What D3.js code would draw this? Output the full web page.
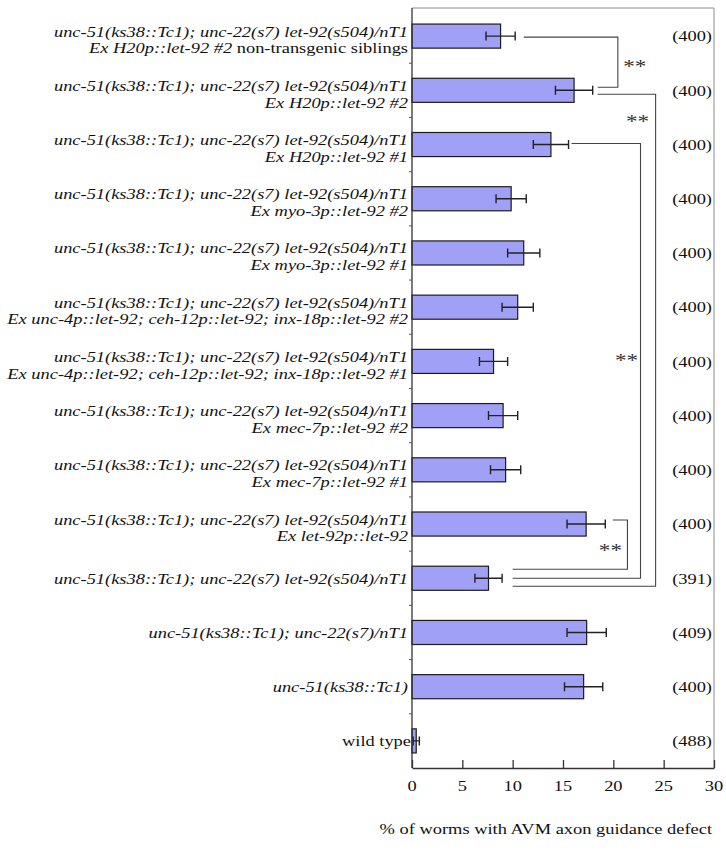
<!DOCTYPE html>
<html>
<head>
<meta charset="utf-8">
<script src="https://cdn.jsdelivr.net/npm/d3@7"></script>
<style>
  html, body { margin: 0; padding: 0; background: #fff; }
  svg { display: block; font-family: "Liberation Serif", "Times New Roman", serif; }
</style>
</head>
<body>
<svg id="chart" width="726" height="853"></svg>
<script>
// ---------------- data ----------------
const G = "unc-51(ks38::Tc1); unc-22(s7) let-92(s504)/nT1";
const genotypes = [G, G, G, G, G, G, G, G, G, G, G,
  "unc-51(ks38::Tc1); unc-22(s7)/nT1", "unc-51(ks38::Tc1)", "wild type"];
const transgenes = [
  "Ex H20p::let-92 #2", "Ex H20p::let-92 #2", "Ex H20p::let-92 #1",
  "Ex myo-3p::let-92 #2", "Ex myo-3p::let-92 #1",
  "Ex unc-4p::let-92; ceh-12p::let-92; inx-18p::let-92 #2",
  "Ex unc-4p::let-92; ceh-12p::let-92; inx-18p::let-92 #1",
  "Ex mec-7p::let-92 #2", "Ex mec-7p::let-92 #1", "Ex let-92p::let-92",
  "", "", "", ""];
const transgeneNotes = [" non-transgenic siblings", "", "", "", "", "", "", "", "", "", "", "", "", ""];
const values = [8.8, 16.1, 13.8, 9.85, 11.1, 10.5, 8.1, 9.05, 9.3, 17.3, 7.6, 17.35, 17.05, 0.42];
const errors = [1.45, 1.85, 1.75, 1.5, 1.6, 1.55, 1.4, 1.45, 1.5, 1.9, 1.35, 1.95, 1.9, 0.31];
const counts = ["(400)", "(400)", "(400)", "(400)", "(400)", "(400)", "(400)", "(400)", "(400)", "(400)", "(391)", "(409)", "(400)", "(488)"];
const xTicks = [0, 5, 10, 15, 20, 25, 30];
const xTitle = "% of worms with AVM axon guidance defect";
// significance comparisons (category indices)
const compA = [0, 1, 2, 9];
const compB = [1, 10, 10, 10];
const compLabel = ["**", "**", "**", "**"];

// ---------------- layout ----------------
const pL = 412, pR = 714, pT = 9, pB = 768;
const stretch = 1.22;      // horizontal stretch of text as in reference
const fs = 15.1;
const ids = d3.range(values.length);

const svg = d3.select("#chart");
const x = d3.scaleLinear().domain([0, 30]).range([pL, pR]);
const y = d3.scaleBand().domain(ids).range([pT, pB]).paddingInner(0.556).paddingOuter(0.278);
const yc = i => y(i) + y.bandwidth() / 2;

function stext(parent, px, py, anchor, size) {
  const g = parent.append("g").attr("transform", `translate(${px},${py}) scale(${stretch},1)`);
  return g.append("text").attr("x", 0).attr("y", 0).attr("text-anchor", anchor)
    .attr("font-size", size || fs).attr("fill", "#111");
}

// frame (top & right, light gray)
svg.append("path")
  .attr("d", `M${pL},${pT - 1}H${pR}V${pB}`)
  .attr("fill", "none").attr("stroke", "#8a8a8a").attr("stroke-width", 1);

// bars
svg.append("g").selectAll("rect").data(ids).join("rect")
  .attr("x", x(0))
  .attr("y", i => y(i))
  .attr("width", i => x(values[i]) - x(0))
  .attr("height", y.bandwidth())
  .attr("fill", "#a0a0f6")
  .attr("stroke", "#1c1c1c").attr("stroke-width", 1.2);

// error bars
const eb = svg.append("g").attr("stroke", "#222").attr("stroke-width", 1.4).attr("fill", "none");
ids.forEach(i => {
  const a = x(values[i] - errors[i]), b = x(values[i] + errors[i]), c = yc(i);
  eb.append("path").attr("d", `M${a},${c}H${b}M${a},${c - 4.5}V${c + 4.5}M${b},${c - 4.5}V${c + 4.5}`);
});

// left axis with minor ticks at band boundaries
const la = svg.append("g");
la.append("line").attr("x1", pL).attr("x2", pL).attr("y1", pT - 1).attr("y2", pB)
  .attr("stroke", "#333").attr("stroke-width", 1.3);
ids.slice(1).forEach(i => {
  const yy = y(i) - y.step() * y.paddingInner() / 2;
  la.append("line").attr("x1", pL - 3).attr("x2", pL).attr("y1", yy).attr("y2", yy)
    .attr("stroke", "#555").attr("stroke-width", 1);
});

// bottom axis
const xa = svg.append("g").attr("transform", `translate(0,${pB})`)
  .call(d3.axisBottom(x).tickValues(xTicks).tickSizeInner(-8).tickSizeOuter(0).tickFormat(() => ""));
xa.select(".domain").attr("stroke", "#333").attr("stroke-width", 1.3);
xa.selectAll(".tick line").attr("stroke", "#333").attr("stroke-width", 1.3);
xTicks.forEach(t => {
  stext(svg, x(t), pB + 23, "middle").text(t);
});
stext(svg, 712, 834, "end").text(xTitle);

// category labels
ids.forEach(i => {
  const c = yc(i);
  const italic = genotypes[i] !== "wild type";
  if (transgenes[i]) {
    stext(svg, 408, c + 0.5, "end").attr("font-style", "italic").text(genotypes[i]);
    const t = stext(svg, 408, c + 17.3, "end");
    t.append("tspan").attr("font-style", "italic").text(transgenes[i]);
    if (transgeneNotes[i]) t.append("tspan").text(transgeneNotes[i]);
  } else {
    stext(svg, italic ? 408 : 411, c + 5.5, "end").attr("font-style", italic ? "italic" : "normal").text(genotypes[i]);
  }
  stext(svg, 712, c + 5.3, "end").text(counts[i]);
});

// significance brackets (layout: x in data units, y offsets in px)
const brX1 = [11.1, 18.45, 15.85, 19.95];   // start beside first bar
const brXv = [20.45, 24.2, 22.7, 21.4];     // vertical line
const brX2 = [18.45, 10.0, 10.0, 10.0];     // end beside second bar
const brDy1 = [1, 4, -1, -4];
const brDy2 = [-3, 8, 0, -9];
const starDx = [17, -18, -14, -17];
const starY = [63, 118, 357, 547];
const bg = svg.append("g").attr("stroke", "#444").attr("stroke-width", 1.1).attr("fill", "none");
compA.forEach((a, k) => {
  const b = compB[k];
  const y1 = yc(a) + brDy1[k], y2 = yc(b) + brDy2[k];
  bg.append("path").attr("d", `M${x(brX1[k])},${y1}H${x(brXv[k])}V${y2}H${x(brX2[k])}`);
  stext(svg, x(brXv[k]) + starDx[k], starY[k] + 9.5, "middle", 19).attr("fill", "#333").text(compLabel[k]);
});
</script>
</body>
</html>
